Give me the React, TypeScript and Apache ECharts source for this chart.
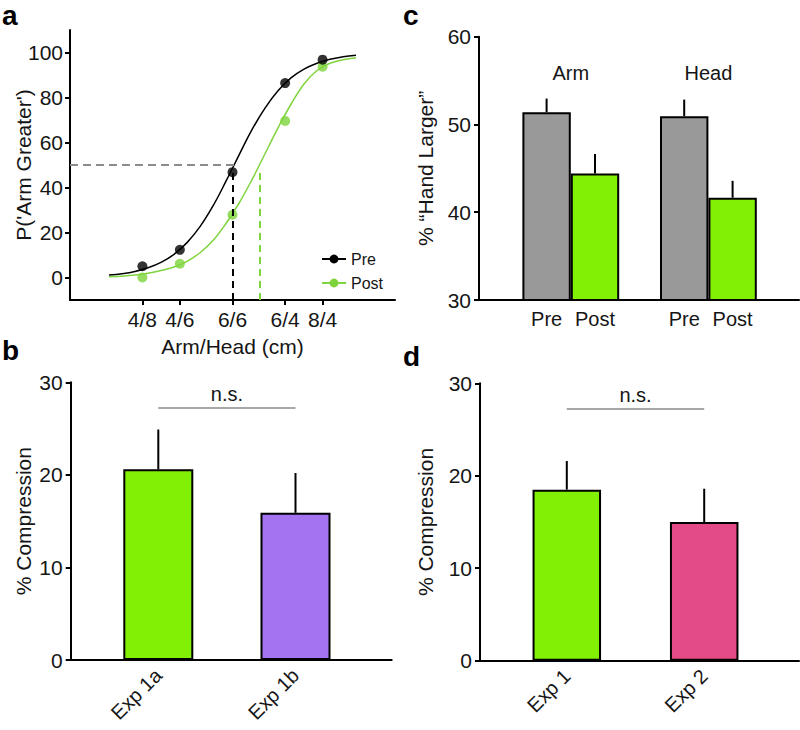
import React, { useEffect, useRef } from 'react';
import * as echarts from 'echarts';

const FONT = '"Liberation Sans", Arial, Helvetica, sans-serif';
const TXT = '#151515';

// ---------- Panel a ----------
const ratioLabels = ['4/8', '4/6', '6/6', '6/4', '8/4'];
const ratioLogs = [-0.693, -0.405, 0, 0.405, 0.693];
const prePoints = [5, 12.3, 46.8, 86.4, 96.8];
const postPoints = [0, 6.1, 27.9, 69.6, 93.7];
const curveX = [-0.95, -0.85, -0.75, -0.65, -0.55, -0.45, -0.35, -0.25, -0.15, -0.05, 0.05, 0.15, 0.25, 0.35, 0.45, 0.55, 0.65, 0.75, 0.85, 0.95];
const preCurve = [1.1, 1.7, 2.7, 4.3, 6.7, 10.3, 15.5, 22.6, 31.8, 42.8, 54.4, 65.7, 75.3, 83.0, 88.7, 92.6, 95.2, 97.0, 98.1, 98.8];
const postCurve = [0.3, 0.6, 1.1, 1.9, 3.1, 4.7, 7.2, 11.0, 16.4, 24.0, 33.0, 43.5, 55.0, 66.5, 77.0, 86.0, 92.0, 95.2, 96.8, 97.7];
const psePre = 0.0;
const psePost = 0.206;
const pseLevel = 50;
const yTicksA = [0, 20, 40, 60, 80, 100];

// ---------- Panel b ----------
const catsB = ['Exp 1a', 'Exp 1b'];
const meansB = [20.6, 15.9];
const errsB = [4.3, 4.3];
const nsLevelB = 27.3;

// ---------- Panel c ----------
const groupsC = ['Arm', 'Head'];
const preC = [51.4, 50.95];
const preErrC = [1.55, 1.88];
const postC = [44.4, 41.65];
const postErrC = [2.24, 1.93];

// ---------- Panel d ----------
const catsD = ['Exp 1', 'Exp 2'];
const meansD = [18.5, 15.0];
const errsD = [3.1, 3.6];
const nsLevelD = 27.3;

const GREEN_A = '#7ED43C';
const GREEN = '#82F005';
const PURPLE = '#A374F2';
const PINK = '#E34B87';
const GRAY = '#999999';

const axisLineStyle = { color: '#000', width: 2 };

function errRender(offset: number) {
  return (params: any, api: any) => {
    const i = api.value(0);
    const m = api.value(1);
    const e = api.value(2);
    const a = api.coord([i, m]);
    const b = api.coord([i, m + e]);
    return {
      type: 'line',
      shape: { x1: a[0] + offset, y1: a[1], x2: b[0] + offset, y2: b[1] },
      style: { stroke: '#000', lineWidth: 2 },
    };
  };
}

function axisOnlyX(gridIndex: number) {
  return {
    type: 'value', gridIndex, min: 0, max: 1,
    axisLine: { show: true, onZero: false, lineStyle: axisLineStyle },
    axisTick: { show: false }, axisLabel: { show: false }, splitLine: { show: false },
  };
}

function valueY(gridIndex: number, min: number, max: number, name: string, nameGap: number) {
  return {
    type: 'value', gridIndex, min, max, interval: 10,
    axisLine: { show: true, onZero: false, lineStyle: axisLineStyle },
    axisTick: { show: true, length: 5, lineStyle: { color: '#000', width: 2 } },
    axisLabel: { fontSize: 21, color: TXT, fontFamily: FONT, margin: 8 },
    splitLine: { show: false },
    name, nameLocation: 'middle', nameGap, nameMoveOverlap: false,
    nameTextStyle: { fontSize: 21, color: TXT, fontFamily: FONT },
  };
}

function hiddenY(gridIndex: number, min: number, max: number) {
  return { type: 'value', gridIndex, min, max, show: false, splitLine: { show: false } };
}

function nsMarkLine(cats: string[], level: number) {
  return {
    silent: true,
    symbol: 'none',
    lineStyle: { color: '#8a8a8a', width: 1.5, type: 'solid' },
    label: { show: true, position: 'middle', formatter: 'n.s.', fontSize: 20, color: TXT, fontFamily: FONT, distance: 3 },
    data: [[{ coord: [cats[0], level] }, { coord: [cats[1], level] }]],
  };
}

export default function App() {
  const ref = useRef<HTMLDivElement>(null);
  useEffect(() => {
    if (!ref.current) return;
    const chart = echarts.init(ref.current, null, { renderer: 'svg' });
    const option: any = {
      animation: false,
      backgroundColor: '#fff',
      textStyle: { fontFamily: FONT },
      graphic: [
        { type: 'text', left: 2, top: 1, style: { text: 'a', fontSize: 28, fontWeight: 'bold', fontFamily: FONT, fill: '#000' } },
        { type: 'text', left: 2, top: 336, style: { text: 'b', fontSize: 28, fontWeight: 'bold', fontFamily: FONT, fill: '#000' } },
        { type: 'text', left: 403, top: 1, style: { text: 'c', fontSize: 28, fontWeight: 'bold', fontFamily: FONT, fill: '#000' } },
        { type: 'text', left: 403, top: 342, style: { text: 'd', fontSize: 28, fontWeight: 'bold', fontFamily: FONT, fill: '#000' } },
      ],
      legend: {
        data: ['Pre', 'Post'],
        orient: 'vertical',
        left: 316, top: 246,
        itemWidth: 24, itemHeight: 11, itemGap: 8,
        textStyle: { fontSize: 16, color: TXT, fontFamily: FONT },
        selectedMode: false,
      },
      grid: [
        { left: 70, top: 30, width: 325, height: 270 },
        { left: 70.7, top: 382.3, width: 321, height: 277.7 },
        { left: 89.7, top: 382.3, width: 274.4, height: 277.7 },
        { left: 479, top: 36.7, width: 320, height: 263.3 },
        { left: 502, top: 36.7, width: 275.2, height: 263.3 },
        { left: 480, top: 383.3, width: 319, height: 277.4 },
        { left: 498.1, top: 383.3, width: 274.8, height: 277.4 },
      ],
      xAxis: [
        {
          type: 'value', gridIndex: 0, min: -1.25, max: 1.25,
          axisLine: { show: true, onZero: false, lineStyle: axisLineStyle },
          axisTick: { show: true, customValues: ratioLogs, length: 5, lineStyle: { color: '#000', width: 2 } },
          axisLabel: {
            customValues: ratioLogs, fontSize: 21, color: TXT, fontFamily: FONT, margin: 9,
            formatter: (v: number) => {
              let best = 0;
              ratioLogs.forEach((r, i) => { if (Math.abs(r - v) < Math.abs(ratioLogs[best] - v)) best = i; });
              return ratioLabels[best];
            },
          },
          splitLine: { show: false },
          name: 'Arm/Head (cm)', nameLocation: 'middle', nameGap: 36, nameMoveOverlap: false,
          nameTextStyle: { fontSize: 21, color: TXT, fontFamily: FONT },
        },
        axisOnlyX(1),
        {
          type: 'category', gridIndex: 2, data: catsB,
          axisLine: { show: false }, axisTick: { show: false },
          axisLabel: { rotate: 45, fontSize: 20, color: TXT, fontFamily: FONT, margin: 12 },
        },
        axisOnlyX(3),
        {
          type: 'category', gridIndex: 4, data: groupsC,
          axisLine: { show: false }, axisTick: { show: false },
          axisLabel: {
            margin: 9,
            formatter: () => '{p|Pre}{q|Post}',
            rich: {
              p: { width: 48.4, align: 'center', fontSize: 20, color: TXT, fontFamily: FONT },
              q: { width: 48.4, align: 'center', fontSize: 20, color: TXT, fontFamily: FONT },
            },
          },
        },
        {
          type: 'category', gridIndex: 4, data: groupsC, position: 'top',
          axisLine: { show: false }, axisTick: { show: false },
          axisLabel: { inside: true, margin: 26, fontSize: 20, color: TXT, fontFamily: FONT },
        },
        axisOnlyX(5),
        {
          type: 'category', gridIndex: 6, data: catsD,
          axisLine: { show: false }, axisTick: { show: false },
          axisLabel: { rotate: 45, fontSize: 20, color: TXT, fontFamily: FONT, margin: 12 },
        },
      ],
      yAxis: [
        {
          type: 'value', gridIndex: 0, min: -10, max: 110,
          axisLine: { show: true, onZero: false, lineStyle: axisLineStyle },
          axisTick: { show: true, customValues: yTicksA, length: 5, lineStyle: { color: '#000', width: 2 } },
          axisLabel: { customValues: yTicksA, fontSize: 21, color: TXT, fontFamily: FONT, margin: 7 },
          splitLine: { show: false },
          name: "P('Arm Greater')", nameLocation: 'middle', nameGap: 36, nameMoveOverlap: false,
          nameTextStyle: { fontSize: 21, color: TXT, fontFamily: FONT },
        },
        valueY(1, 0, 30, '% Compression', 37),
        hiddenY(2, 0, 30),
        valueY(3, 30, 60, '% \u201CHand Larger\u201D', 43),
        hiddenY(4, 30, 60),
        valueY(5, 0, 30, '% Compression', 44),
        hiddenY(6, 0, 30),
      ],
      series: [
        {
          name: 'Pre', type: 'line', xAxisIndex: 0, yAxisIndex: 0,
          data: curveX.map((x, i) => [x, preCurve[i]]),
          smooth: 0.4,
          symbol: 'circle', symbolSize: 10, showSymbol: false,
          lineStyle: { color: '#000', width: 1.5 }, itemStyle: { color: '#000' },
          z: 2,
          markLine: {
            silent: true, symbol: 'none', label: { show: false },
            data: [
              [{ coord: [-1.25, pseLevel], lineStyle: { color: '#8c8c8c', width: 2, type: [8, 5] } }, { coord: [psePre + 0.025, pseLevel] }],
              [{ coord: [psePre, -10], lineStyle: { color: '#000', width: 2, type: [7, 5] } }, { coord: [psePre, 47] }],
            ],
          },
        },
        {
          name: 'Post', type: 'line', xAxisIndex: 0, yAxisIndex: 0,
          data: curveX.map((x, i) => [x, postCurve[i]]),
          smooth: 0.4,
          symbol: 'circle', symbolSize: 10, showSymbol: false,
          lineStyle: { color: GREEN_A, width: 1.5 }, itemStyle: { color: GREEN_A },
          z: 2,
          markLine: {
            silent: true, symbol: 'none', label: { show: false },
            data: [
              [{ coord: [psePost, -10], lineStyle: { color: GREEN_A, width: 2, type: [7, 5] } }, { coord: [psePost, 47.5] }],
            ],
          },
        },
        {
          name: 'Pre', type: 'scatter', xAxisIndex: 0, yAxisIndex: 0,
          data: ratioLogs.map((x, i) => [x, prePoints[i]]),
          symbolSize: 10, itemStyle: { color: '#000' }, z: 4,
        },
        {
          name: 'Post', type: 'scatter', xAxisIndex: 0, yAxisIndex: 0,
          data: ratioLogs.map((x, i) => [x, postPoints[i]]),
          symbolSize: 10, itemStyle: { color: GREEN_A }, z: 3,
        },
        // Panel b
        {
          type: 'bar', xAxisIndex: 2, yAxisIndex: 2, barWidth: 70,
          data: meansB.map((v, i) => ({ value: v, itemStyle: { color: i === 0 ? GREEN : PURPLE } })),
          itemStyle: { borderColor: '#000', borderWidth: 2 },
          markLine: nsMarkLine(catsB, nsLevelB),
        },
        {
          type: 'custom', xAxisIndex: 2, yAxisIndex: 2, renderItem: errRender(0),
          encode: { x: 0, y: 1 }, data: meansB.map((m, i) => [i, m, errsB[i]]), z: 3,
        },
        // Panel c
        {
          name: 'PreBar', type: 'bar', xAxisIndex: 4, yAxisIndex: 4, barWidth: 48.4, barGap: '0%',
          data: preC, itemStyle: { color: GRAY, borderColor: '#000', borderWidth: 2 },
        },
        {
          name: 'PostBar', type: 'bar', xAxisIndex: 4, yAxisIndex: 4, barWidth: 48.4, barGap: '0%',
          data: postC, itemStyle: { color: GREEN, borderColor: '#000', borderWidth: 2 },
        },
        {
          type: 'custom', xAxisIndex: 4, yAxisIndex: 4, renderItem: errRender(-24.2),
          encode: { x: 0, y: 1 }, data: preC.map((m, i) => [i, m, preErrC[i]]), z: 3,
        },
        {
          type: 'custom', xAxisIndex: 4, yAxisIndex: 4, renderItem: errRender(24.2),
          encode: { x: 0, y: 1 }, data: postC.map((m, i) => [i, m, postErrC[i]]), z: 3,
        },
        // Panel d
        {
          type: 'bar', xAxisIndex: 7, yAxisIndex: 6, barWidth: 68.5,
          data: meansD.map((v, i) => ({ value: v, itemStyle: { color: i === 0 ? GREEN : PINK } })),
          itemStyle: { borderColor: '#000', borderWidth: 2 },
          markLine: nsMarkLine(catsD, nsLevelD),
        },
        {
          type: 'custom', xAxisIndex: 7, yAxisIndex: 6, renderItem: errRender(0),
          encode: { x: 0, y: 1 }, data: meansD.map((m, i) => [i, m, errsD[i]]), z: 3,
        },
      ],
    };
    chart.setOption(option);
    return () => chart.dispose();
  }, []);
  return <div ref={ref} style={{ position: 'absolute', left: 0, top: 0, width: 800, height: 730 }} />;
}
